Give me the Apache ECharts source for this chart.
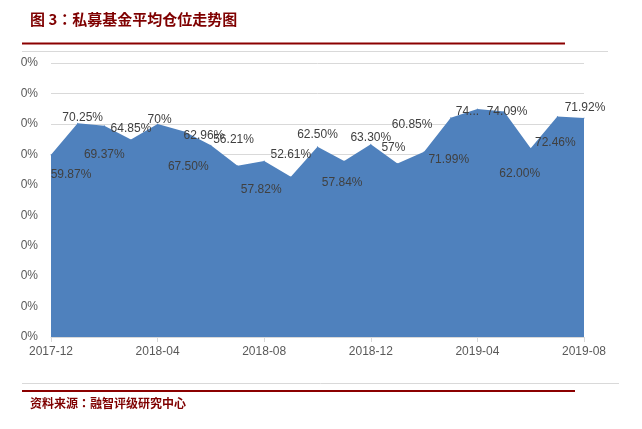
<!DOCTYPE html>
<html><head><meta charset="utf-8">
<script src="https://cdn.jsdelivr.net/npm/echarts@6/dist/echarts.min.js"></script>
<style>html,body{margin:0;padding:0;background:#fff}#c{width:642px;height:429px}</style>
</head><body><div id="c"></div>
<script>
var titleText = '图 3：私募基金平均仓位走势图';
var sourceText = '资料来源：融智评级研究中心';
var categories = ['2017-12','2018-01','2018-02','2018-03','2018-04','2018-05','2018-06','2018-07','2018-08','2018-09','2018-10','2018-11','2018-12','2019-01','2019-02','2019-03','2019-04','2019-05','2019-06','2019-07','2019-08'];
var values = [59.87,70.25,69.37,64.85,70,67.50,62.96,56.21,57.82,52.61,62.50,57.84,63.30,57,60.85,71.99,74.9,74.09,62.00,72.46,71.92];
var labelTexts = ['59.87%','70.25%','69.37%','64.85%','70%','67.50%','62.96%','56.21%','57.82%','52.61%','62.50%','57.84%','63.30%','57%','60.85%','71.99%','74...','74.09%','62.00%','72.46%','71.92%'];
var yTickLabels = ['0%','0%','0%','0%','0%','0%','0%','0%','0%','0%'];
var labelOffsets = [[20,20],[5,-5],[0,29],[0,-11],[2,-4],[4,35],[-7,-10],[-4,-26],[-3,29],[0,-22],[0,-12],[-2,22],[0,-7],[-4,-16],[-12,-27],[-2,42],[-10,3],[3,0],[-11,25],[-2,26],[1,-10]];

var dark = '#7f0000';
var seriesData = values.map(function(v,i){
  return {value:v, label:{offset:labelOffsets[i], formatter: labelTexts[i]}};
});
var chart = echarts.init(document.getElementById('c'));
chart.setOption({
  animation:false,
  backgroundColor:'#fff',
  grid:{left:51,right:58,top:63,bottom:92},
  xAxis:{type:'category',data:categories,boundaryGap:false,
    axisLine:{show:true,lineStyle:{color:'#d9d9d9'}},
    axisTick:{show:true,interval:3,length:5,lineStyle:{color:'#d9d9d9'}},
    axisLabel:{interval:3,color:'#595959',fontSize:12,fontFamily:'Liberation Sans',margin:9}},
  yAxis:{type:'value',min:0,max:90,interval:10,
    axisLine:{show:false},axisTick:{show:false},
    splitLine:{lineStyle:{color:'#d9d9d9'}},
    axisLabel:{color:'#595959',fontSize:12,fontFamily:'Liberation Sans',margin:13,
      formatter:function(v){return yTickLabels[Math.round(v/10)];}}},
  series:[{type:'line',data:seriesData,symbol:'circle',symbolSize:1,showSymbol:true,
    lineStyle:{width:0,color:'#4f81bd'},itemStyle:{color:'#4f81bd'},
    areaStyle:{color:'#4f81bd',opacity:1},
    label:{show:true,position:'inside',align:'center',verticalAlign:'middle',color:'#404040',fontSize:12,fontFamily:'Liberation Sans'}}],
  graphic:[
    {type:'text',left:30,top:12,style:{text:titleText,fill:dark,font:'bold 15px "Noto Sans CJK JP"'}},
    {type:'line',shape:{x1:22,y1:43.5,x2:565,y2:43.5},style:{stroke:'#8b0000',lineWidth:2}},
    {type:'line',shape:{x1:22,y1:51.5,x2:608,y2:51.5},style:{stroke:'#d9d9d9',lineWidth:1}},
    {type:'line',shape:{x1:22,y1:383.5,x2:619,y2:383.5},style:{stroke:'#d9d9d9',lineWidth:1}},
    {type:'line',shape:{x1:22,y1:391,x2:575,y2:391},style:{stroke:'#8b0000',lineWidth:2}},
    {type:'text',left:30,top:397,style:{text:sourceText,fill:dark,font:'bold 12px "Noto Sans CJK JP"'}}
  ]
});
</script></body></html>
